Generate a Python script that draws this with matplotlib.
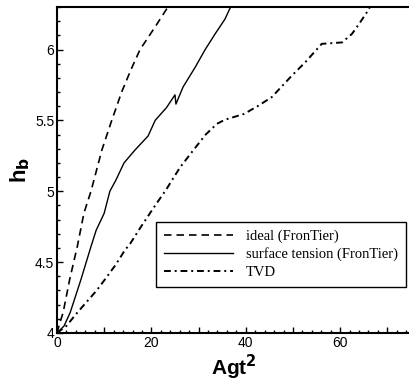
import numpy as np
import matplotlib
matplotlib.use('Agg')
import matplotlib.pyplot as plt
from matplotlib.ticker import MultipleLocator, FuncFormatter

# ideal (FronTier)
ideal_x = [0, 0.5, 1.3, 2.7, 4.3, 5.7, 7.2, 9.5, 11.6, 13.7, 15.7, 17.6, 20.8, 23.5]
ideal_y = [4.0, 4.06, 4.145, 4.38, 4.61, 4.845, 5.0, 5.29, 5.5, 5.70, 5.86, 6.0, 6.16, 6.3]

# surface tension (FronTier)
st_x = [0, 1.5, 2.8, 5.1, 7.2, 8.3, 10.0, 11.2, 12.5, 14.2, 16.5, 19.3, 20.8, 23.2,
        25.0, 25.2, 26.7, 29.3, 31.4, 33.5, 35.6, 36.5, 36.8]
st_y = [4.0, 4.05, 4.145, 4.38, 4.61, 4.725, 4.845, 5.0, 5.08, 5.2, 5.29, 5.39, 5.5, 5.59,
        5.68, 5.615, 5.735, 5.876, 6.0, 6.11, 6.215, 6.28, 6.3]

# TVD
tvd_x = [0, 2.0, 4.2, 6.3, 8.4, 10.2, 12.4, 14.4, 15.5, 17.8, 20.6, 23.1, 26.1, 28.9,
         31.5, 33.9, 35.6, 39.6, 42.5, 45.5, 49.8, 52.6, 56.1, 58.2, 60.4, 62.5, 64.2,
         66.0, 66.3]
tvd_y = [4.0, 4.05, 4.14, 4.22, 4.30, 4.38, 4.48, 4.585, 4.63, 4.75, 4.89, 5.01, 5.17, 5.29,
         5.40, 5.476, 5.505, 5.545, 5.6, 5.664, 5.817, 5.91, 6.04, 6.045, 6.05, 6.11, 6.19,
         6.28, 6.3]

plt.rcParams['font.family'] = 'Liberation Sans'

fig = plt.figure(figsize=(4.1, 3.81), dpi=100)
ax = fig.add_axes([57 / 410, 48 / 381, 353 / 410, 326 / 381])

ax.plot(ideal_x, ideal_y, color='black', lw=1.2, dashes=(4.5, 3), label='ideal (FronTier)')
ax.plot(st_x, st_y, color='black', lw=1.0, label='surface tension (FronTier)')
ax.plot(tvd_x, tvd_y, color='black', lw=1.4, dashes=(3.5, 2, 1, 2), label='TVD')

ax.set_xlim(0, 74.8)
ax.set_ylim(4, 6.3)

ax.xaxis.set_major_locator(MultipleLocator(10))
ax.xaxis.set_minor_locator(MultipleLocator(2))
ax.xaxis.set_major_formatter(FuncFormatter(lambda v, p: '%d' % v if int(round(v)) % 20 == 0 else ''))
ax.yaxis.set_major_locator(MultipleLocator(0.5))
ax.yaxis.set_minor_locator(MultipleLocator(0.1))
ax.yaxis.set_major_formatter(FuncFormatter(lambda v, p: ('%g' % v)))

ax.tick_params(which='both', direction='in', width=1, labelsize=10, colors='black')
ax.tick_params(which='major', length=4.5, pad=2)
ax.tick_params(which='minor', length=2.5)

for s in ['left', 'bottom', 'top']:
    ax.spines[s].set_linewidth(1.5)
ax.spines['right'].set_visible(False)

ax.set_xlabel('Agt$^\\mathbf{2}$', fontsize=15, fontweight='bold', labelpad=2)
ax.set_ylabel('h$_\\mathbf{b}$', fontsize=16, fontweight='bold', labelpad=2)

leg = ax.legend(loc='lower left', bbox_to_anchor=(156 / 410, 94 / 381),
                bbox_transform=fig.transFigure, borderaxespad=0,
                prop={'family': 'Liberation Serif', 'size': 10.5},
                handlelength=4.7, handletextpad=0.9, labelspacing=0.3,
                borderpad=0.55, fancybox=False, framealpha=1, edgecolor='black')
leg.get_frame().set_linewidth(1.0)

fig.savefig('out.png', dpi=100)
